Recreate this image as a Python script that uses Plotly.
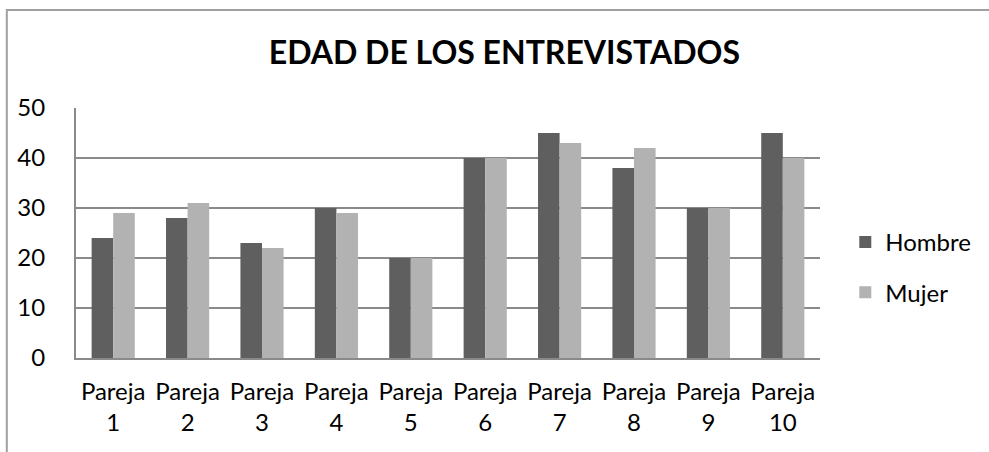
import plotly.graph_objects as go

parejas = ["Pareja<br>1", "Pareja<br>2", "Pareja<br>3", "Pareja<br>4", "Pareja<br>5",
           "Pareja<br>6", "Pareja<br>7", "Pareja<br>8", "Pareja<br>9", "Pareja<br>10"]
hombre = [24, 28, 23, 30, 20, 40, 45, 38, 30, 45]
mujer = [29, 31, 22, 29, 20, 40, 43, 42, 30, 40]
y_ticks = [0, 10, 20, 30, 40, 50]

FONT = "Lato, 'Open Sans', sans-serif"

fig = go.Figure()
fig.add_trace(go.Bar(x=parejas, y=hombre, name="Hombre", marker_color="#5f5f5f",
                     marker_line_width=0, legendgroup="h"))
fig.add_trace(go.Bar(x=parejas, y=mujer, name="Mujer", marker_color="#b2b2b2",
                     marker_line_width=0, legendgroup="m"))

fig.update_layout(
    width=989,
    height=452,
    margin=dict(l=76, r=169, t=108, b=94),
    paper_bgcolor="white",
    plot_bgcolor="white",
    font=dict(family=FONT, size=24, color="black"),
    barmode="group",
    bargap=0.42,
    bargroupgap=0,
    title=dict(
        text="<b>EDAD DE LOS ENTREVISTADOS</b>",
        font=dict(size=32, family=FONT, color="black"),
        x=0.51, xref="container", xanchor="center",
        y=0.883, yref="container", yanchor="middle",
    ),
    legend=dict(
        x=1.034, xanchor="left",
        y=0.362, yanchor="middle",
        font=dict(size=24),
        tracegroupgap=16,
        itemwidth=30,
        bgcolor="rgba(0,0,0,0)",
    ),
    showlegend=True,
)

fig.update_yaxes(
    range=[0, 50],
    tickvals=y_ticks,
    showgrid=True,
    gridcolor="#8a8a8a",
    gridwidth=2,
    showline=True,
    linecolor="#8a8a8a",
    linewidth=2,
    zeroline=False,
    ticks="",
    ticklabelstandoff=24,
    automargin=False,
)
fig.update_xaxes(
    showline=True,
    linecolor="#8a8a8a",
    linewidth=2,
    showgrid=False,
    ticks="",
    ticklabelstandoff=11,
    automargin=False,
)

# marco exterior del gráfico
fig.add_shape(type="rect", xref="paper", yref="paper",
              x0=-0.093, x1=1.4, y0=-0.6, y1=1.392,
              line=dict(color="#a0a0a0", width=2), layer="below")

fig.write_html("out.html", config={"displayModeBar": False},
               post_script="document.body.style.margin='0';")
